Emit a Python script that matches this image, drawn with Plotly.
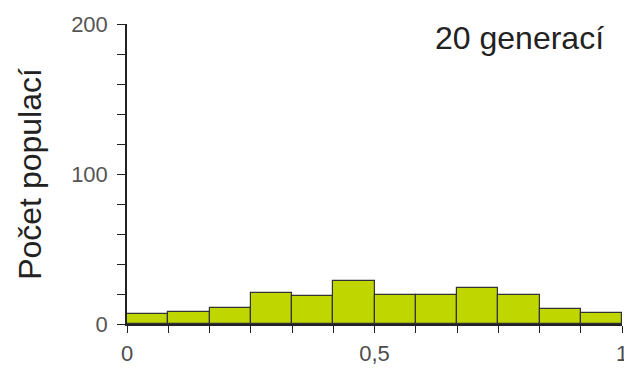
import plotly.graph_objects as go

# histogram of allele frequency after 20 generations
bin_starts = [0, 1/12, 2/12, 3/12, 4/12, 5/12, 6/12, 7/12, 8/12, 9/12, 10/12, 11/12]
counts = [6.5, 7.8, 11, 20.5, 18.7, 28.7, 19.6, 19.6, 23.8, 19.6, 10, 7.5]
x_tick_vals = [0, 0.5, 1]
x_tick_text = ["0", "0,5", "1"]
y_tick_vals = [0, 100, 200]

bin_width = 1 / 12
centers = [s + bin_width / 2 for s in bin_starts]
edges = bin_starts + [1]

fig = go.Figure()

fig.add_trace(go.Bar(
    x=centers,
    y=counts,
    width=bin_width,
    marker=dict(color="#bfd600", line=dict(color="#333333", width=1.2)),
))

# ticks at every bin edge, labels only at 0, 0,5 and 1
tick_text = []
for e in edges:
    lab = ""
    for v, t in zip(x_tick_vals, x_tick_text):
        if abs(e - v) < 1e-9:
            lab = t
    tick_text.append(lab)

fig.update_xaxes(
    range=[0, 1],
    tickvals=edges,
    ticktext=tick_text,
    ticks="outside",
    ticklen=7,
    tickwidth=1.2,
    tickcolor="#222222",
    showline=True,
    linecolor="#222222",
    linewidth=1.5,
    showgrid=False,
    zeroline=False,
    automargin=False,
    tickfont=dict(size=22, color="#4d4d4d"),
    ticklabelstandoff=2,
    ticklabeloverflow="allow",
)

fig.update_yaxes(
    range=[0, 200],
    tickvals=y_tick_vals,
    ticks="outside",
    ticklen=8,
    tickwidth=1.2,
    tickcolor="#222222",
    minor=dict(dtick=20, ticks="outside", ticklen=8, tickwidth=1.2, tickcolor="#222222"),
    showline=True,
    linecolor="#222222",
    linewidth=1.5,
    showgrid=False,
    zeroline=False,
    automargin=False,
    tickfont=dict(size=22, color="#555555"),
    ticklabelstandoff=5,
    title=dict(text="Počet populací", font=dict(size=32, color="#222222"), standoff=20),
)

# page body has an 8 px margin, so the figure is 8 px smaller and shifted
fig.add_annotation(
    x=(606 - 127) / (622 - 127), y=1 - (38 - 24) / 300,
    xref="x domain", yref="paper",
    text="20 generací", showarrow=False,
    xanchor="right", yanchor="middle",
    font=dict(size=32, color="#222222"),
)

fig.update_layout(
    width=624,
    height=360,
    margin=dict(l=119, r=10, t=16, b=44),
    plot_bgcolor="white",
    paper_bgcolor="white",
    font=dict(family="Liberation Sans, Arial, sans-serif"),
    showlegend=False,
    bargap=0,
)

fig.write_html("out.html")
